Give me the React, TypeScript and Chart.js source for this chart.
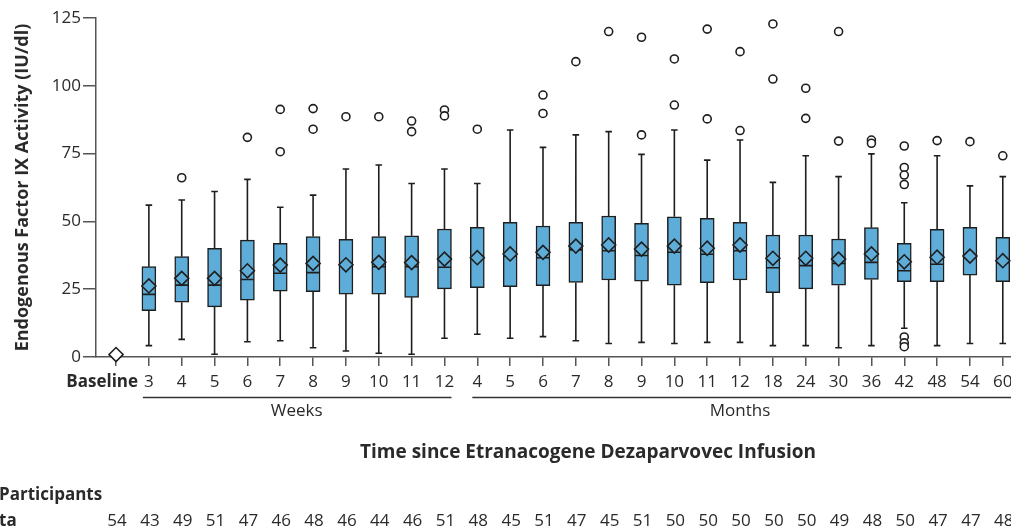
import React, { useEffect, useRef } from 'react';
import { Chart, registerables } from 'chart.js';

Chart.register(...registerables);

const categories = ['Baseline', '3', '4', '5', '6', '7', '8', '9', '10', '11', '12', '4', '5', '6', '7', '8', '9', '10', '11', '12', '18', '24', '30', '36', '42', '48', '54', '60'];
const whiskerLow = [0, 4.2, 6.5, 1.0, 5.6, 6.0, 3.4, 2.2, 1.4, 1.0, 6.9, 8.4, 6.9, 7.5, 6.0, 5.0, 5.4, 5.0, 5.4, 5.4, 4.2, 4.2, 3.4, 4.2, 10.6, 4.2, 5.0, 5.0];
const q1 = [0.4, 17.1, 20.2, 18.5, 21.0, 24.3, 24.1, 23.2, 23.2, 22.0, 25.1, 25.6, 25.9, 26.3, 27.5, 28.4, 28.0, 26.5, 27.4, 28.4, 23.7, 25.1, 26.5, 28.6, 27.8, 27.8, 30.2, 27.8];
const median = [0.8, 23.1, 26.5, 26.5, 28.6, 30.9, 31.1, 33.7, 33.3, 33.3, 33.1, 36.4, 37.2, 36.6, 39.5, 39.2, 37.4, 38.6, 37.9, 39.2, 32.9, 33.7, 34.5, 34.9, 31.8, 34.2, 36.6, 34.9];
const q3 = [1.2, 33.3, 37.0, 40.1, 43.1, 41.9, 44.4, 43.4, 44.4, 44.7, 47.2, 47.8, 49.7, 48.3, 49.7, 52.0, 49.3, 51.7, 51.1, 49.7, 45.0, 45.0, 43.5, 47.7, 41.9, 47.1, 47.8, 44.1];
const whiskerHigh = [2.0, 56.0, 57.9, 61.0, 65.5, 55.2, 59.7, 69.3, 70.8, 64.0, 69.3, 64.0, 83.7, 77.3, 81.9, 83.1, 74.7, 83.7, 72.6, 80.0, 64.4, 74.2, 66.5, 74.9, 56.9, 74.2, 63.1, 66.5];
const means = [0.9, 26.2, 29.0, 29.0, 31.8, 33.9, 34.5, 34.0, 34.9, 34.8, 36.1, 36.6, 38.0, 38.6, 40.9, 41.3, 39.8, 40.9, 40.1, 41.3, 36.4, 36.4, 36.1, 38.0, 35.1, 36.8, 37.2, 35.5];
const outliers: number[][] = [
  [], [], [66.1], [], [81.0], [91.3, 75.7], [91.6, 84.0], [88.6], [88.6], [87.0, 83.1], [91.1, 88.9],
  [84.0], [], [96.6, 89.8], [108.9], [120.0], [117.9, 81.9], [109.9, 92.9], [120.9, 87.8], [112.6, 83.5],
  [122.8, 102.5], [99.1, 88.0], [120.0, 79.6], [80.0, 78.8], [77.8, 69.9, 67.1, 63.6, 7.4, 5.2, 3.8], [79.8], [79.4], [74.2],
];
const participants = [54, 43, 49, 51, 47, 46, 48, 46, 44, 46, 51, 48, 45, 51, 47, 45, 51, 50, 50, 50, 50, 50, 49, 48, 50, 47, 47, 48];
const yTicks = [0, 25, 50, 75, 100, 125];
const weeksRange = [1, 10];
const monthsRange = [11, 27];

const FONT = '"Open Sans", "DejaVu Sans", sans-serif';
const BLUE = '#5eadd8';
const INK = '#1e1e1e';
const AXIS = '#555555';
const TEXT = '#2a2a2a';

export default function App() {
  const ref = useRef<HTMLCanvasElement>(null);

  useEffect(() => {
    const canvas = ref.current;
    if (!canvas) return;
    const idx = categories.map((_, i) => i);
    const capW = 0.1;
    const medW = 0.2;

    const boxData = idx.map((i) => ({ x: i, y: [q1[i], q3[i]] }));
    const whiskerData: any[] = [];
    const capData: any[] = [];
    const medianData: any[] = [];
    idx.forEach((i) => {
      whiskerData.push({ x: i, y: whiskerLow[i] }, { x: i, y: q1[i] }, { x: i, y: null },
        { x: i, y: q3[i] }, { x: i, y: whiskerHigh[i] }, { x: i, y: null });
      if (i > 0) {
        capData.push({ x: i - capW, y: whiskerLow[i] }, { x: i + capW, y: whiskerLow[i] }, { x: i, y: null },
          { x: i - capW, y: whiskerHigh[i] }, { x: i + capW, y: whiskerHigh[i] }, { x: i, y: null });
        medianData.push({ x: i - medW, y: median[i] }, { x: i + medW, y: median[i] }, { x: i, y: null });
      }
    });
    const meanData = idx.map((i) => ({ x: i, y: means[i] }));
    const meanFill = idx.map((i) => (i === 0 ? '#ffffff' : BLUE));
    const outlierData: any[] = [];
    idx.forEach((i) => outliers[i].forEach((v) => outlierData.push({ x: i, y: v })));

    const textPlugin = {
      id: 'textPlugin',
      afterDraw(chart: any) {
        const { ctx } = chart;
        const x = chart.scales.x;
        const px = (v: number) => x.getPixelForValue(v);
        ctx.save();
        ctx.fillStyle = TEXT;
        ctx.textBaseline = 'middle';
        categories.forEach((c, i) => {
          if (i === 0) {
            ctx.font = `bold 17px ${FONT}`;
            ctx.textAlign = 'right';
            ctx.fillText(c, px(i) + 22, 382);
          } else {
            ctx.font = `17px ${FONT}`;
            ctx.textAlign = 'center';
            ctx.fillText(c, px(i), 382);
          }
        });
        ctx.strokeStyle = '#333';
        ctx.lineWidth = 1.5;
        ctx.beginPath();
        ctx.moveTo(px(weeksRange[0]) - 6, 397.5);
        ctx.lineTo(px(weeksRange[1]) + 7, 397.5);
        ctx.moveTo(px(monthsRange[0]) - 5, 397.5);
        ctx.lineTo(chart.width, 397.5);
        ctx.stroke();
        ctx.font = `17px ${FONT}`;
        ctx.textAlign = 'center';
        ctx.fillText('Weeks', (px(weeksRange[0]) + px(weeksRange[1])) / 2, 411);
        ctx.fillText('Months', (px(monthsRange[0]) + px(monthsRange[1])) / 2, 411);
        ctx.font = `bold 19px ${FONT}`;
        ctx.fillText('Time since Etranacogene Dezaparvovec Infusion', 588, 453);
        ctx.textAlign = 'left';
        ctx.font = `bold 17px ${FONT}`;
        ctx.fillText('Participants', -1, 495);
        ctx.fillText('ta', -1, 521);
        ctx.font = `17px ${FONT}`;
        ctx.textAlign = 'center';
        participants.forEach((n, i) => ctx.fillText(String(n), px(i) + 1, 521));
        ctx.restore();
      },
    };

    const chart = new Chart(canvas, {
      type: 'bar',
      data: {
        datasets: [
          {
            type: 'bar',
            data: boxData as any,
            backgroundColor: BLUE,
            borderColor: INK,
            borderWidth: 1.5,
            borderSkipped: false,
            barThickness: 14,
            order: 5,
          } as any,
          {
            type: 'line',
            data: whiskerData,
            borderColor: INK,
            borderWidth: 1.6,
            pointRadius: 0,
            spanGaps: false,
            order: 6,
          },
          {
            type: 'line',
            data: capData,
            borderColor: INK,
            borderWidth: 1.6,
            pointRadius: 0,
            spanGaps: false,
            order: 4,
          },
          {
            type: 'line',
            data: medianData,
            borderColor: INK,
            borderWidth: 1.6,
            pointRadius: 0,
            spanGaps: false,
            order: 3,
          },
          {
            type: 'line',
            data: meanData,
            showLine: false,
            pointStyle: 'rectRot',
            pointRadius: 7,
            pointBackgroundColor: meanFill,
            pointBorderColor: INK,
            pointBorderWidth: 1.6,
            clip: false,
            order: 2,
          } as any,
          {
            type: 'line',
            data: outlierData,
            showLine: false,
            pointStyle: 'circle',
            pointRadius: 4,
            pointBackgroundColor: '#ffffff',
            pointBorderColor: INK,
            pointBorderWidth: 1.6,
            clip: false,
            order: 1,
          } as any,
        ],
      },
      options: {
        animation: false,
        responsive: true,
        maintainAspectRatio: false,
        events: [],
        layout: { autoPadding: false, padding: { top: 18, left: 0, right: 0, bottom: 0 } },
        plugins: { legend: { display: false }, tooltip: { enabled: false } },
        scales: {
          x: {
            type: 'linear',
            offset: false,
            min: -0.61,
            max: 27.25,
            afterBuildTicks: (scale: any) => {
              scale.ticks = categories.map((_, i) => ({ value: i }));
            },
            afterFit: (scale: any) => {
              scale.height = 173;
              scale.paddingLeft = 0;
              scale.paddingRight = 0;
            },
            ticks: { callback: () => '', padding: 0 },
            grid: { offset: false, drawOnChartArea: false, drawTicks: true, tickLength: 9, color: AXIS, lineWidth: 1.5 },
            border: { color: AXIS, width: 1.5 },
          },
          y: {
            type: 'linear',
            min: 0,
            max: 125,
            afterBuildTicks: (scale: any) => {
              scale.ticks = yTicks.map((v) => ({ value: v }));
            },
            afterFit: (scale: any) => {
              scale.width = 96;
            },
            ticks: { font: { family: FONT, size: 17 }, color: TEXT, padding: 2 },
            grid: { drawOnChartArea: false, drawTicks: true, tickLength: 13, color: AXIS, lineWidth: 1.5 },
            border: { color: AXIS, width: 1.5 },
            title: {
              display: true,
              text: 'Endogenous Factor IX Activity (IU/dl)',
              font: { family: FONT, size: 18, weight: 'bold' },
              color: TEXT,
              padding: { top: 12, bottom: 0 },
            },
          },
        },
      } as any,
      plugins: [textPlugin],
    });
    return () => chart.destroy();
  }, []);

  return (
    <div style={{ position: 'absolute', left: 0, top: 0, width: 1011, height: 530, background: '#ffffff' }}>
      <canvas ref={ref} />
    </div>
  );
}
